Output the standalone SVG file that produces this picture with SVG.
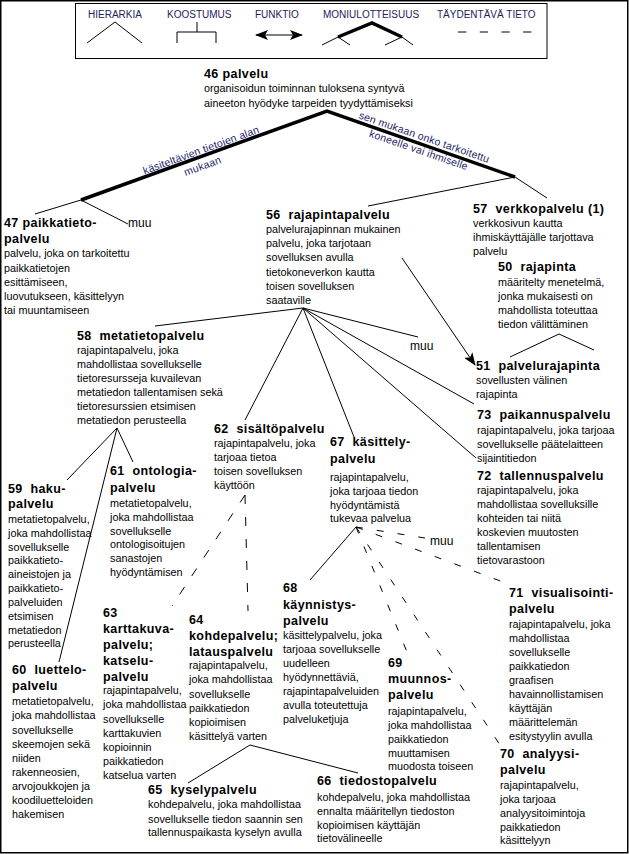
<svg xmlns="http://www.w3.org/2000/svg" width="629" height="854" viewBox="0 0 629 854">
<style>
text{font-family:"Liberation Sans",Arial,sans-serif;fill:#000}
.h{font-size:12.5px;font-weight:bold;letter-spacing:0.4px}
.b{font-size:10.8px}
.m{font-size:12px}
.lg{font-size:10px;fill:#22225a}
.rl{font-size:10.5px;fill:#1c1c6a;letter-spacing:0.2px}
.ln{stroke:#000;stroke-width:1;fill:none}
.tk{stroke:#000;stroke-width:3.5;fill:none;stroke-linejoin:miter}
.d1{stroke-dasharray:9 13}
.d2{stroke-dasharray:7 14}
</style>
<defs>
<marker id="arr" markerUnits="userSpaceOnUse" markerWidth="13" markerHeight="10" refX="12" refY="5" orient="auto-start-reverse">
<path d="M0,0 L13,5 L0,10 L3,5 z" fill="#000"/>
</marker>
</defs>
<rect x="0.75" y="0.75" width="627" height="852" fill="#fff" stroke="#000" stroke-width="1.5"/>
<g id="legend">
<rect x="75.5" y="3.5" width="471.5" height="55" fill="none" stroke="#000" stroke-width="1"/>
<text class="lg" x="88" y="17.5">HIERARKIA</text>
<text class="lg" x="167" y="17.5">KOOSTUMUS</text>
<text class="lg" x="255" y="17.5">FUNKTIO</text>
<text class="lg" x="323" y="17.5">MONIULOTTEISUUS</text>
<text class="lg" x="437" y="17.5">TÄYDENTÄVÄ TIETO</text>
<polyline class="ln" points="87,43 115,22 142,43"/>
<polyline class="ln" points="197,22 197,32"/>
<polyline class="ln" points="177,43 177,32 216,32 216,43"/>
<line class="ln" x1="256" y1="35" x2="302" y2="35" marker-start="url(#arr)" marker-end="url(#arr)"/>
<polyline class="tk" points="338,37 372,23 402,37"/>
<polyline class="ln" points="322,45 338,37 350,45"/>
<polyline class="ln" points="385,45 402,37 413,45"/>
<line class="ln" x1="458" y1="32" x2="534" y2="32" stroke-dasharray="8.3 13.4"/>
</g>
<g id="connectors">
<polyline class="tk" points="81,200 327,111 515,177"/>
<polyline class="ln" points="35,214 81,200 128,224"/>
<polyline class="ln" points="368,206 515,177 547,198"/>
<line class="ln" x1="303" y1="308" x2="155" y2="326"/>
<line class="ln" x1="303" y1="308" x2="418" y2="337"/>
<line class="ln" x1="303" y1="308" x2="245" y2="420"/>
<line class="ln" x1="303" y1="308" x2="354" y2="437"/>
<line class="ln" x1="303" y1="308" x2="476" y2="458"/>
<line class="ln" x1="303" y1="308" x2="474" y2="404"/>
<line class="ln" x1="402" y1="258" x2="475" y2="365" marker-end="url(#arr)"/>
<polyline class="ln" points="510,357 559,334 594,350"/>
<line class="ln" x1="117" y1="428" x2="67" y2="480"/>
<line class="ln" x1="117" y1="428" x2="133" y2="462"/>
<line class="ln" x1="117" y1="428" x2="59" y2="662"/>
<line class="ln d1" x1="245" y1="495" x2="172" y2="606"/>
<line class="ln d1" x1="245" y1="495" x2="248" y2="611"/>
<line class="ln" x1="356" y1="527" x2="310" y2="580"/>
<line class="ln d2" x1="356" y1="527" x2="425" y2="538"/>
<line class="ln d2" x1="356" y1="527" x2="503" y2="582"/>
<line class="ln d2" x1="356" y1="527" x2="407" y2="652"/>
<line class="ln d2" x1="356" y1="527" x2="500" y2="745"/>
<line class="ln" x1="250" y1="745" x2="188" y2="783"/>
<line class="ln" x1="250" y1="745" x2="358" y2="773"/>
<g transform="rotate(-20 201 156)">
<text class="rl" x="203" y="154" text-anchor="middle">käsiteltävien tietojen alan</text>
<text class="rl" x="199" y="169.5" text-anchor="middle">mukaan</text>
</g>
<g transform="rotate(19 424 144)">
<text class="rl" x="422" y="141" text-anchor="middle">sen mukaan onko tarkoitettu</text>
<text class="rl" x="421" y="155" text-anchor="middle">koneelle vai ihmiselle</text>
</g>
<text class="m" x="128" y="227">muu</text>
<text class="m" x="410" y="350">muu</text>
<text class="m" x="430" y="545">muu</text>
</g>
<g id="n46"><text x="204"><tspan class="h" x="204" y="78">46 palvelu</tspan><tspan class="b" x="204" y="92">organisoidun toiminnan tuloksena syntyvä</tspan><tspan class="b" x="204" y="107">aineeton hyödyke tarpeiden tyydyttämiseksi</tspan></text></g>
<g id="n47"><text><tspan class="h" x="4" y="227">47 paikkatieto-</tspan><tspan class="h" x="4" y="243">palvelu</tspan><tspan class="b" x="4" y="257">palvelu, joka on tarkoitettu</tspan><tspan class="b" x="4" y="271.5">paikkatietojen</tspan><tspan class="b" x="4" y="286">esittämiseen,</tspan><tspan class="b" x="4" y="300">luovutukseen, käsittelyyn</tspan><tspan class="b" x="4" y="314">tai muuntamiseen</tspan></text></g>
<g id="n56"><text><tspan class="h" x="266" y="219">56&#160; rajapintapalvelu</tspan><tspan class="b" x="266" y="233">palvelurajapinnan mukainen</tspan><tspan class="b" x="266" y="247">palvelu, joka tarjotaan</tspan><tspan class="b" x="266" y="261">sovelluksen avulla</tspan><tspan class="b" x="266" y="275.5">tietokoneverkon kautta</tspan><tspan class="b" x="266" y="290">toisen sovelluksen</tspan><tspan class="b" x="266" y="304">saataville</tspan></text></g>
<g id="n57"><text><tspan class="h" x="473" y="213">57&#160; verkkopalvelu (1)</tspan><tspan class="b" x="473" y="227">verkkosivun kautta</tspan><tspan class="b" x="473" y="241">ihmiskäyttäjälle tarjottava</tspan><tspan class="b" x="473" y="254.5">palvelu</tspan></text></g>
<g id="n50"><text><tspan class="h" x="498" y="271">50&#160; rajapinta</tspan><tspan class="b" x="498" y="285.5">määritelty menetelmä,</tspan><tspan class="b" x="498" y="299.5">jonka mukaisesti on</tspan><tspan class="b" x="498" y="313.5">mahdollista toteuttaa</tspan><tspan class="b" x="498" y="327.5">tiedon välittäminen</tspan></text></g>
<g id="n51"><text><tspan class="h" x="476" y="370">51&#160; palvelurajapinta</tspan><tspan class="b" x="476" y="384">sovellusten välinen</tspan><tspan class="b" x="476" y="398">rajapinta</tspan></text></g>
<g id="n73"><text><tspan class="h" x="477" y="419">73&#160; paikannuspalvelu</tspan><tspan class="b" x="477" y="434">rajapintapalvelu, joka tarjoaa</tspan><tspan class="b" x="477" y="448">sovellukselle päätelaitteen</tspan><tspan class="b" x="477" y="462">sijaintitiedon</tspan></text></g>
<g id="n72"><text><tspan class="h" x="477" y="480">72&#160; tallennuspalvelu</tspan><tspan class="b" x="477" y="494">rajapintapalvelu, joka</tspan><tspan class="b" x="477" y="508">mahdollistaa sovelluksille</tspan><tspan class="b" x="477" y="522">kohteiden tai niitä</tspan><tspan class="b" x="477" y="536">koskevien muutosten</tspan><tspan class="b" x="477" y="550">tallentamisen</tspan><tspan class="b" x="477" y="564">tietovarastoon</tspan></text></g>
<g id="n58"><text><tspan class="h" x="77" y="340">58&#160; metatietopalvelu</tspan><tspan class="b" x="77" y="354">rajapintapalvelu, joka</tspan><tspan class="b" x="77" y="368">mahdollistaa sovellukselle</tspan><tspan class="b" x="77" y="382">tietoresursseja kuvailevan</tspan><tspan class="b" x="77" y="396">metatiedon tallentamisen sekä</tspan><tspan class="b" x="77" y="410">tietoresurssien etsimisen</tspan><tspan class="b" x="77" y="424">metatiedon perusteella</tspan></text></g>
<g id="n62"><text><tspan class="h" x="214" y="433">62&#160; sisältöpalvelu</tspan><tspan class="b" x="214" y="447">rajapintapalvelu, joka</tspan><tspan class="b" x="214" y="461">tarjoaa tietoa</tspan><tspan class="b" x="214" y="475">toisen sovelluksen</tspan><tspan class="b" x="214" y="489">käyttöön</tspan></text></g>
<g id="n67"><text><tspan class="h" x="330" y="446">67&#160; käsittely-</tspan><tspan class="h" x="330" y="463">palvelu</tspan><tspan class="b" x="330" y="480.5">rajapintapalvelu,</tspan><tspan class="b" x="330" y="494.5">joka tarjoaa tiedon</tspan><tspan class="b" x="330" y="508.5">hyödyntämistä</tspan><tspan class="b" x="330" y="522">tukevaa palvelua</tspan></text></g>
<g id="n61"><text><tspan class="h" x="110" y="475">61&#160; ontologia-</tspan><tspan class="h" x="110" y="491.5">palvelu</tspan><tspan class="b" x="110" y="507">metatietopalvelu,</tspan><tspan class="b" x="110" y="521">joka mahdollistaa</tspan><tspan class="b" x="110" y="534.5">sovellukselle</tspan><tspan class="b" x="110" y="548">ontologisoitujen</tspan><tspan class="b" x="110" y="562">sanastojen</tspan><tspan class="b" x="110" y="576">hyödyntämisen</tspan></text></g>
<g id="n59"><text><tspan class="h" x="8" y="493">59&#160; haku-</tspan><tspan class="h" x="8" y="508">palvelu</tspan><tspan class="b" x="8" y="523">metatietopalvelu,</tspan><tspan class="b" x="8" y="537">joka mahdollistaa</tspan><tspan class="b" x="8" y="550.5">sovellukselle</tspan><tspan class="b" x="8" y="564">paikkatieto-</tspan><tspan class="b" x="8" y="578">aineistojen ja</tspan><tspan class="b" x="8" y="592">paikkatieto-</tspan><tspan class="b" x="8" y="605.5">palveluiden</tspan><tspan class="b" x="8" y="619.5">etsimisen</tspan><tspan class="b" x="8" y="633.5">metatiedon</tspan><tspan class="b" x="8" y="647">perusteella</tspan></text></g>
<g id="n60"><text><tspan class="h" x="12" y="674">60&#160; luettelo-</tspan><tspan class="h" x="12" y="690">palvelu</tspan><tspan class="b" x="12" y="705">metatietopalvelu,</tspan><tspan class="b" x="12" y="719">joka mahdollistaa</tspan><tspan class="b" x="12" y="733.5">sovellukselle</tspan><tspan class="b" x="12" y="748">skeemojen sekä</tspan><tspan class="b" x="12" y="762">niiden</tspan><tspan class="b" x="12" y="776">rakenneosien,</tspan><tspan class="b" x="12" y="790">arvojoukkojen ja</tspan><tspan class="b" x="12" y="804">koodiluetteloiden</tspan><tspan class="b" x="12" y="818">hakemisen</tspan></text></g>
<g id="n63"><text><tspan class="h" x="103" y="617">63</tspan><tspan class="h" x="103" y="633">karttakuva-</tspan><tspan class="h" x="103" y="649">palvelu;</tspan><tspan class="h" x="103" y="665">katselu-</tspan><tspan class="h" x="103" y="681">palvelu</tspan><tspan class="b" x="103" y="694">rajapintapalvelu,</tspan><tspan class="b" x="103" y="708">joka mahdollistaa</tspan><tspan class="b" x="103" y="722.5">sovellukselle</tspan><tspan class="b" x="103" y="736.5">karttakuvien</tspan><tspan class="b" x="103" y="750.5">kopioinnin</tspan><tspan class="b" x="103" y="764.5">paikkatiedon</tspan><tspan class="b" x="103" y="778.5">katselua varten</tspan></text></g>
<g id="n64"><text><tspan class="h" x="189" y="624">64</tspan><tspan class="h" x="189" y="640">kohdepalvelu;</tspan><tspan class="h" x="189" y="655.5">latauspalvelu</tspan><tspan class="b" x="189" y="669">rajapintapalvelu,</tspan><tspan class="b" x="189" y="683">joka mahdollistaa</tspan><tspan class="b" x="189" y="697.5">sovellukselle</tspan><tspan class="b" x="189" y="711.5">paikkatiedon</tspan><tspan class="b" x="189" y="725.5">kopioimisen</tspan><tspan class="b" x="189" y="739.5">käsittelyä varten</tspan></text></g>
<g id="n65"><text><tspan class="h" x="148" y="794">65&#160; kyselypalvelu</tspan><tspan class="b" x="148" y="808">kohdepalvelu, joka mahdollistaa</tspan><tspan class="b" x="148" y="822.5">sovellukselle tiedon saannin sen</tspan><tspan class="b" x="148" y="836">tallennuspaikasta kyselyn avulla</tspan></text></g>
<g id="n66"><text><tspan class="h" x="317" y="785">66&#160; tiedostopalvelu</tspan><tspan class="b" x="317" y="801">kohdepalvelu, joka mahdollistaa</tspan><tspan class="b" x="317" y="815">ennalta määritellyn tiedoston</tspan><tspan class="b" x="317" y="829">kopioimisen käyttäjän</tspan><tspan class="b" x="317" y="842">tietovälineelle</tspan></text></g>
<g id="n68"><text><tspan class="h" x="283" y="592">68</tspan><tspan class="h" x="283" y="609">käynnistys-</tspan><tspan class="h" x="283" y="625">palvelu</tspan><tspan class="b" x="283" y="639">käsittelypalvelu, joka</tspan><tspan class="b" x="283" y="653">tarjoaa sovellukselle</tspan><tspan class="b" x="283" y="667">uudelleen</tspan><tspan class="b" x="283" y="681">hyödynnettäviä,</tspan><tspan class="b" x="283" y="695">rajapintapalveluiden</tspan><tspan class="b" x="283" y="709">avulla toteutettuja</tspan><tspan class="b" x="283" y="723">palveluketjuja</tspan></text></g>
<g id="n69"><text><tspan class="h" x="388" y="667">69</tspan><tspan class="h" x="388" y="683">muunnos-</tspan><tspan class="h" x="388" y="699">palvelu</tspan><tspan class="b" x="388" y="715">rajapintapalvelu,</tspan><tspan class="b" x="388" y="729">joka mahdollistaa</tspan><tspan class="b" x="388" y="743">paikkatiedon</tspan><tspan class="b" x="388" y="757">muuttamisen</tspan><tspan class="b" x="388" y="770">muodosta toiseen</tspan></text></g>
<g id="n70"><text><tspan class="h" x="500" y="758">70&#160; analyysi-</tspan><tspan class="h" x="500" y="774">palvelu</tspan><tspan class="b" x="500" y="788.5">rajapintapalvelu,</tspan><tspan class="b" x="500" y="802.5">joka tarjoaa</tspan><tspan class="b" x="500" y="816.5">analyysitoimintoja</tspan><tspan class="b" x="500" y="830.5">paikkatiedon</tspan><tspan class="b" x="500" y="844">käsittelyyn</tspan></text></g>
<g id="n71"><text><tspan class="h" x="509" y="597">71&#160; visualisointi-</tspan><tspan class="h" x="509" y="613">palvelu</tspan><tspan class="b" x="509" y="627.5">rajapintapalvelu, joka</tspan><tspan class="b" x="509" y="641.5">mahdollistaa</tspan><tspan class="b" x="509" y="655.5">sovellukselle</tspan><tspan class="b" x="509" y="669.5">paikkatiedon</tspan><tspan class="b" x="509" y="683.5">graafisen</tspan><tspan class="b" x="509" y="697.5">havainnollistamisen</tspan><tspan class="b" x="509" y="711.5">käyttäjän</tspan><tspan class="b" x="509" y="725.5">määrittelemän</tspan><tspan class="b" x="509" y="739.5">esitystyylin avulla</tspan></text></g>
</svg>
